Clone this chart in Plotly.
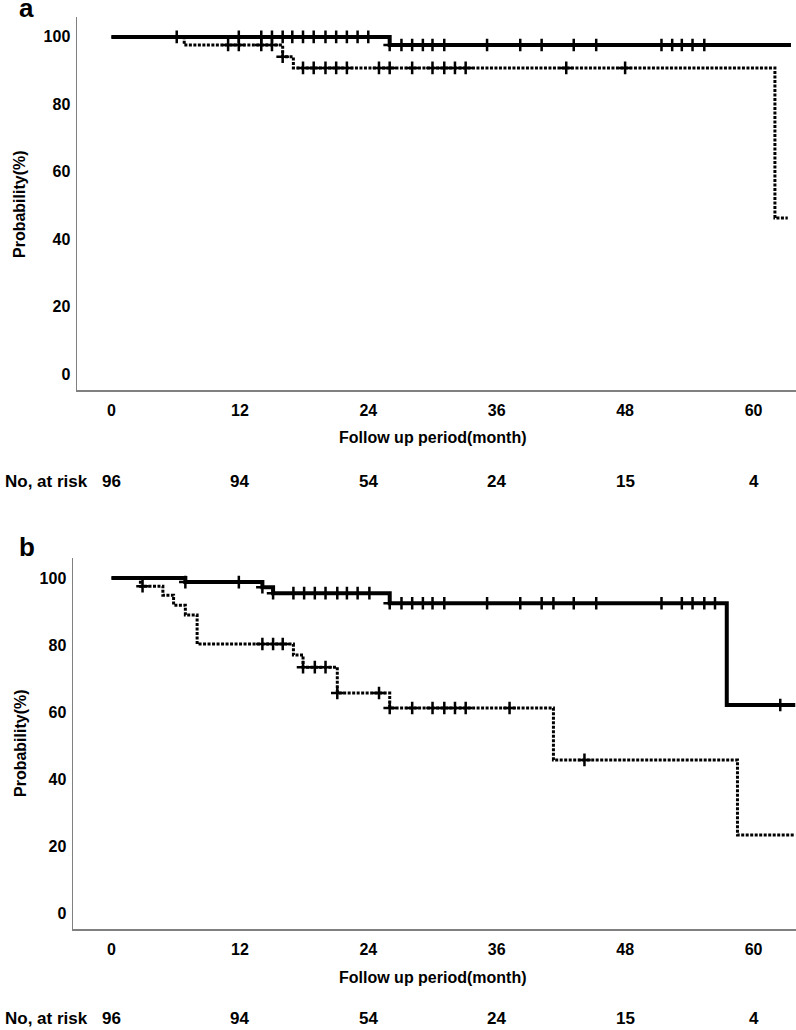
import plotly.graph_objects as go

W, H = 796, 1030

# ---------------- data ----------------
x_ticks = [0, 12, 24, 36, 48, 60]
y_ticks = [0, 20, 40, 60, 80, 100]
at_risk = [96, 94, 54, 24, 15, 4]

# Panel a - solid group
a_solid_event_t = [0, 26.0]
a_solid_event_s = [100, 97.6]
a_solid_end = 63.5
a_solid_cens = [6.1, 11.9, 14.0, 15.0, 16.0, 16.9, 17.9, 18.9, 20.0, 21.0, 22.0, 23.0, 24.0,
                26.0, 27.1, 28.1, 29.1, 30.0, 31.1, 35.1, 38.2, 40.2, 43.2, 45.3,
                51.4, 52.4, 53.3, 54.3, 55.4]

# Panel a - dotted group
a_dot_event_t = [0, 6.8, 16.0, 17.0, 62.0]
a_dot_event_s = [100, 97.6, 94.1, 90.8, 46.3]
a_dot_end = 63.2
a_dot_cens = [10.9, 11.9, 14.0, 15.0, 16.0, 17.9, 18.9, 20.0, 21.0, 22.0, 25.0, 26.0,
              28.1, 30.0, 31.1, 32.1, 33.1, 42.5, 48.0]

# Panel b - solid group
b_solid_event_t = [0, 6.9, 14.1, 15.1, 26.0, 57.5]
b_solid_event_s = [100, 98.8, 97.3, 95.5, 92.5, 62.1]
b_solid_end = 63.9
b_solid_cens = [6.9, 11.9, 14.1, 15.1, 17.0, 18.0, 19.0, 20.0, 21.1, 22.0, 23.0, 24.1,
                26.0, 27.1, 28.1, 29.1, 30.0, 31.1, 35.1, 38.2, 40.2, 41.3, 43.2, 45.3,
                51.4, 53.3, 54.3, 55.4, 56.4, 62.5]

# Panel b - dotted group
b_dot_event_t = [0, 2.7, 4.8, 5.8, 6.9, 8.0, 17.0, 17.9, 21.1, 26.0, 41.3, 58.5]
b_dot_event_s = [100, 97.6, 94.9, 91.9, 89.0, 80.3, 77.0, 73.4, 65.7, 61.2, 45.7, 23.3]
b_dot_end = 63.9
b_dot_cens = [2.9, 14.1, 15.1, 16.0, 17.9, 19.0, 20.0, 21.1, 25.0, 26.0, 28.1, 30.0,
              31.1, 32.1, 33.1, 37.2, 44.2]

FONT = "Liberation Sans"
AX_COL = "#808080"


def surv_at(t, ev_t, ev_s):
    s = ev_s[0]
    for tt, ss in zip(ev_t, ev_s):
        if tt <= t + 1e-9:
            s = ss
    return s


def add_curve(fig, ev_t, ev_s, end, cens, xa, ya, dotted):
    xs = list(ev_t) + [end]
    ys = list(ev_s) + [ev_s[-1]]
    line = dict(color="black", width=3 if dotted else 4, shape="hv")
    if dotted:
        line["dash"] = "3px,1.5px"
    fig.add_trace(go.Scatter(x=xs, y=ys, mode="lines", line=line,
                             xaxis=xa, yaxis=ya, showlegend=False, hoverinfo="skip"))
    cy = [surv_at(c, ev_t, ev_s) for c in cens]
    fig.add_trace(go.Scatter(x=cens, y=cy, mode="markers",
                             marker=dict(symbol="cross-thin", size=9,
                                         line=dict(color="black", width=2.5)),
                             xaxis=xa, yaxis=ya, showlegend=False, hoverinfo="skip"))


fig = go.Figure()
add_curve(fig, a_solid_event_t, a_solid_event_s, a_solid_end, a_solid_cens, "x", "y", False)
add_curve(fig, a_dot_event_t, a_dot_event_s, a_dot_end, a_dot_cens, "x", "y", True)
add_curve(fig, b_solid_event_t, b_solid_event_s, b_solid_end, b_solid_cens, "x2", "y2", False)
add_curve(fig, b_dot_event_t, b_dot_event_s, b_dot_end, b_dot_cens, "x2", "y2", True)


def px_x(p):
    return p / W


def px_y(p):
    return 1 - p / H


tickfont = dict(family=FONT, size=16, color="black", weight="bold")
xa_common = dict(tickvals=x_ticks, ticktext=[str(v) for v in x_ticks], showgrid=False,
                 zeroline=False, showline=True, linecolor=AX_COL, linewidth=1.5,
                 ticks="outside", ticklen=5, tickcolor="rgba(0,0,0,0)", tickfont=tickfont,
                 fixedrange=True)
ya_common = dict(tickvals=y_ticks, ticktext=[str(v) for v in y_ticks], showgrid=False,
                 zeroline=False, showline=True, linecolor=AX_COL, linewidth=1.5,
                 ticks="outside", ticklen=2, tickcolor="rgba(0,0,0,0)", tickfont=tickfont,
                 fixedrange=True)

fig.update_layout(
    width=W, height=H, margin=dict(l=0, r=0, t=0, b=0),
    paper_bgcolor="white", plot_bgcolor="white",
    xaxis=dict(domain=[px_x(77), 1], range=[-3.22, 63.97], anchor="y", **xa_common),
    yaxis=dict(domain=[px_y(390), px_y(17)], range=[-4.75, 105.9], anchor="x", **ya_common),
    xaxis2=dict(domain=[px_x(73), 1], range=[-3.6, 63.97], anchor="y2", **xa_common),
    yaxis2=dict(domain=[px_y(929), px_y(558)], range=[-4.8, 106.0], anchor="x2", **ya_common),
)

ann = []
bold = lambda s: dict(family=FONT, size=s, color="black", weight="bold")

panels = [
    dict(label="a", lab_y=8, xref="x", ytitle_c=204, xtitle_y=438, risk_y=481),
    dict(label="b", lab_y=547, xref="x2", ytitle_c=743, xtitle_y=977, risk_y=1018),
]
for p in panels:
    ann.append(dict(text=p["label"], x=px_x(26.5), y=px_y(p["lab_y"]), xref="paper", yref="paper",
                    xanchor="center", yanchor="middle", showarrow=False, font=bold(26)))
    ann.append(dict(text="Probability(%)", x=px_x(20), y=px_y(p["ytitle_c"]), xref="paper",
                    yref="paper", xanchor="center", yanchor="middle", textangle=-90,
                    showarrow=False, font=bold(16)))
    ann.append(dict(text="Follow up period(month)", x=px_x(433), y=px_y(p["xtitle_y"]),
                    xref="paper", yref="paper", xanchor="center", yanchor="middle",
                    showarrow=False, font=bold(16)))
    ann.append(dict(text="No, at risk", x=px_x(3), y=px_y(p["risk_y"]), xref="paper",
                    yref="paper", xanchor="left", yanchor="middle", showarrow=False,
                    font=bold(17)))
    for t, n in zip(x_ticks, at_risk):
        ann.append(dict(text=str(n), x=t, y=px_y(p["risk_y"]), xref=p["xref"], yref="paper",
                        xanchor="center", yanchor="middle", showarrow=False, font=bold(17)))

fig.update_layout(annotations=ann)
# remove the browser's default 8px body margin so the figure sits at the page origin
fig.write_html("out.html", config={"displayModeBar": False, "staticPlot": True},
               post_script="document.body.style.margin='0';")
